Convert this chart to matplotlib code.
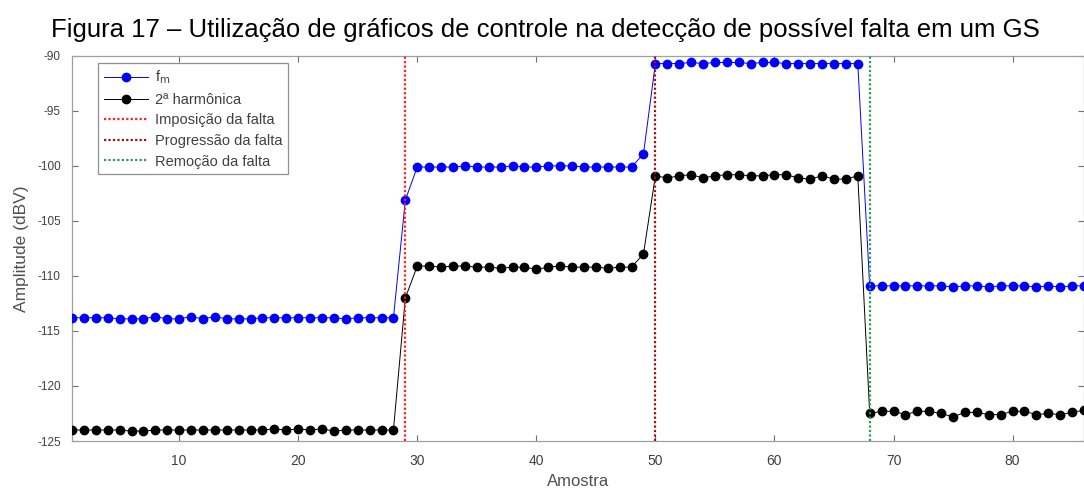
import matplotlib
matplotlib.use("Agg")
import matplotlib.pyplot as plt

plt.rcParams['font.family'] = ['Liberation Sans', 'DejaVu Sans']
plt.rcParams['axes.unicode_minus'] = False

title = "Figura 17 – Utilização de gráficos de controle na detecção de possível falta em um GS"
xlabel = "Amostra"
ylabel = "Amplitude (dBV)"

samples = list(range(1, 87))

fm = [
    -113.8, -113.8, -113.8, -113.8, -113.9, -113.9, -113.9, -113.7, -113.9, -113.9,
    -113.7, -113.9, -113.7, -113.9, -113.9, -113.9, -113.8, -113.8, -113.8, -113.8,
    -113.8, -113.8, -113.8, -113.9, -113.8, -113.8, -113.8, -113.8,
    -103.1,
    -100.1, -100.1, -100.1, -100.1, -100.0, -100.1, -100.1, -100.1, -100.0, -100.1,
    -100.1, -100.0, -100.0, -100.0, -100.1, -100.1, -100.1, -100.1, -100.1,
    -98.9,
    -90.7, -90.7, -90.7, -90.6, -90.7, -90.6, -90.6, -90.6, -90.7, -90.6,
    -90.6, -90.7, -90.7, -90.7, -90.7, -90.7, -90.7, -90.7,
    -110.9, -110.9, -110.9, -110.9, -110.9, -110.9, -110.9, -111.0, -110.9, -110.9,
    -111.0, -110.9, -110.9, -110.9, -111.0, -110.9, -111.0, -110.9, -110.9,
]

harm2 = [
    -124.0, -124.0, -124.0, -124.0, -124.0, -124.1, -124.1, -124.0, -124.0, -124.0,
    -124.0, -124.0, -124.0, -124.0, -124.0, -124.0, -124.0, -123.9, -124.0, -123.9,
    -124.0, -123.9, -124.1, -124.0, -124.0, -124.0, -124.0, -124.0,
    -112.0,
    -109.1, -109.1, -109.2, -109.1, -109.1, -109.2, -109.2, -109.3, -109.2, -109.2,
    -109.4, -109.2, -109.1, -109.2, -109.2, -109.2, -109.3, -109.2, -109.2,
    -108.0,
    -100.9, -101.1, -100.9, -100.8, -101.1, -100.9, -100.8, -100.8, -100.9, -100.9,
    -100.8, -100.8, -101.1, -101.2, -100.9, -101.2, -101.2, -100.9,
    -122.5, -122.3, -122.3, -122.6, -122.3, -122.3, -122.5, -122.8, -122.4, -122.4,
    -122.6, -122.6, -122.3, -122.3, -122.6, -122.5, -122.6, -122.4, -122.2,
]

legend_labels = ["f$_{\\mathrm{m}}$", "2ª harmônica", "Imposição da falta",
                 "Progressão da falta", "Remoção da falta"]
events = [29, 50, 68]
event_colors = ["#ff2020", "#a01010", "#2f9a55"]

xticks = [10, 20, 30, 40, 50, 60, 70, 80]
yticks = [-125, -120, -115, -110, -105, -100, -95, -90]

fig = plt.figure(figsize=(10.84, 4.90), dpi=100)
ax = fig.add_axes([0.0664, 0.10, 0.9336, 0.786])

ax.plot(samples, fm, color="#0000ff", lw=0.7, marker="o", ms=6,
        mfc="#0000ff", mec="#0000ff", label=legend_labels[0], zorder=3)
ax.plot(samples, harm2, color="#000000", lw=0.7, marker="o", ms=6,
        mfc="#000000", mec="#000000", label=legend_labels[1], zorder=3)
for xv, c, lab in zip(events, event_colors, legend_labels[2:]):
    ax.axvline(xv, color=c, ls=(0, (1, 1)), lw=1.6, label=lab, zorder=4)

ax.set_xlim(1, 86)
ax.set_ylim(-125, -90)
ax.set_xticks(xticks)
ax.set_yticks(yticks)
ax.tick_params(direction="in", top=True, right=True, length=4,
               labelcolor="#404040", color="#707070", width=0.8)
ax.tick_params(axis="x", labelsize=10, pad=9)
ax.tick_params(axis="y", labelsize=8.5, pad=8)
for s in ax.spines.values():
    s.set_color("#a0a0a0")
    s.set_linewidth(0.9)

ax.set_xlabel(xlabel, fontsize=12, color="#505050", labelpad=5)
ax.set_ylabel(ylabel, fontsize=12.5, color="#505050", labelpad=6)

fig.text(0.503, 0.938, title, ha="center", va="center", fontsize=18.5, color="black")

leg = ax.legend(loc="upper left", bbox_to_anchor=(0.026, 0.982), fontsize=10.5,
                frameon=True, fancybox=False, edgecolor="#909090",
                handlelength=3.0, handletextpad=0.5, borderpad=0.4,
                labelspacing=0.45, borderaxespad=0, framealpha=1)
leg.get_frame().set_linewidth(0.9)
for t in leg.get_texts():
    t.set_color("#404040")

fig.savefig("out.png", dpi=100)
